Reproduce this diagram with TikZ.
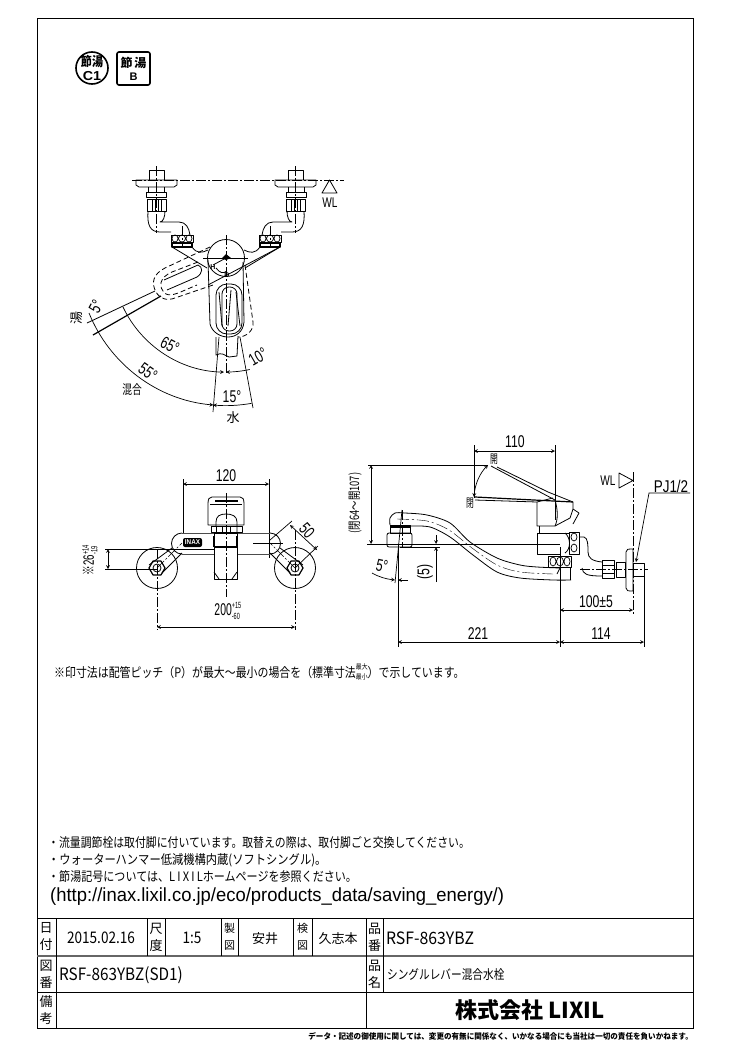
\documentclass[tikz,border=0pt]{standalone}
\usepackage{fontspec}
\setmainfont{Liberation Sans}
\newfontfamily\jpfont{Noto Sans CJK JP}
\usetikzlibrary{calc}
\newcommand{\jp}[1]{{\jpfont #1}}
\newcommand{\tolstack}[2]{$^{\mbox{\fontsize{9}{9}\selectfont #1}}_{\mbox{\fontsize{9}{9}\selectfont #2}}$}
\tikzset{
    >=stealth,
    part/.style={line width=0.8pt, line join=round},
    heavy/.style={part, line width=1.2pt},
    hidden/.style={part, dashed, dash pattern=on 5pt off 3pt},
    centre/.style={line width=0.6pt, dash pattern=on 10pt off 2pt on 2pt off 2pt},
    thin-line/.style={line width=0.7pt},
    dim/.style={thin-line, <->},
    rule/.style={line width=0.9pt},
    dim-label/.style={font=\fontsize{17}{17}\selectfont, xscale=0.72, inner sep=0pt},
    jp-label/.style={font=\fontsize{13}{13}\selectfont\jpfont, inner sep=0pt},
    note/.style={font=\fontsize{13}{13}\selectfont\jpfont, inner sep=0pt, anchor=west},
    cell/.style={font=\fontsize{13}{17}\selectfont\jpfont, inner sep=0pt, align=center},
    value/.style={font=\fontsize{17}{17}\selectfont\jpfont, inner sep=0pt}
}
% one supply leg of the top view, drawn on the left of x=226
\newcommand{\supplyleg}{
    \draw[part] (136,180) -- (177,180) -- (177,185) -- (174,187) -- (139,187) -- (136,185) -- cycle;
    \draw[part] (149,180) -- (149,170) -- (164,170) -- (164,180);
    \draw[part] (146,192) rectangle (166,197);
    \draw[part] (148,187) -- (148,192) (164,187) -- (164,192);
    \draw[part] (147,199) rectangle (166,211);
    \draw[part] (152,199) -- (152,211) (155,199) -- (155,211) (158,199) -- (158,211) (161,199) -- (161,211);
    \draw[part] (148,211) .. controls (147,225) and (150,232) .. (160,232) -- (171,232);
    \draw[part] (165,211) .. controls (165,217) and (163,222) .. (160,222) -- (179,222) .. controls (186,222) and (189,228) .. (190,235);
    \draw[part] (171,235) rectangle (193,242);
    \draw[thin-line] (175,238.5) ellipse (3 and 3.5) (182,238.5) ellipse (3.5 and 3.5) (189,238.5) ellipse (3 and 3.5);
    \draw[heavy] (172,243) rectangle (192,247);
    \draw[part] (172,247) -- (207,268);
    \draw[part] (192,247) .. controls (197,254) and (202,253) .. (208,250);
    \draw[centre] (156.5,166) -- (156.5,233);
    \draw[centre] (182,226) -- (182,246);
}
% one foot of the front view
\newcommand{\footplate}[1]{
    \draw[part] #1 circle (20.5);
    \draw[heavy, shift={#1}] (0:8) -- (60:8) -- (120:8) -- (180:8) -- (240:8) -- (300:8) -- cycle;
    \draw[part] #1 circle (4);
}
\begin{document}
\begin{tikzpicture}[x=1pt,y=-1pt]
    \useasboundingbox (0,0) rectangle (750,1060);
    \fill[white] (0,0) rectangle (750,1060);

    % frame and title block
    \draw[rule] (37,18) rectangle (693,1028);
    \draw[rule] (37,918) -- (693,918) (37,992) -- (693,992);
    \draw[line width=1.2pt, black!60] (37,956) -- (693,956);
    \draw[rule] (56,918) -- (56,1028) (366,918) -- (366,1028) (383,918) -- (383,992);
    \draw[rule] (147,918) -- (147,956) (165,918) -- (165,956) (221,918) -- (221,956);
    \draw[rule] (238,918) -- (238,956) (293,918) -- (293,956) (312,918) -- (312,956);

    \node[cell] (date-head) at (46,937) {日\\付};
    \node[value, font=\fontsize{16}{16}\selectfont\jpfont, xscale=0.85] (date-value) at (101,938) {2015.02.16};
    \node[cell] (scale-head) at (156,937) {尺\\度};
    \node[value, font=\fontsize{16}{16}\selectfont\jpfont, xscale=0.85] (scale-value) at (192,938) {1:5};
    \node[cell, font=\fontsize{11}{17}\selectfont\jpfont] (drawn-head) at (229.5,937) {製\\図};
    \node[jp-label] (drawn-value) at (265,939) {安井};
    \node[cell, font=\fontsize{11}{17}\selectfont\jpfont] (check-head) at (302.5,937) {検\\図};
    \node[jp-label] (check-value) at (338,939) {久志本};
    \node[cell] (item-head) at (374.5,937) {品\\番};
    \node[value, anchor=west, xscale=0.93] (item-value) at (386,938) {RSF-863YBZ};
    \node[cell] (sheet-head) at (46,974) {図\\番};
    \node[value, anchor=west, xscale=0.9] (sheet-value) at (59,975) {RSF-863YBZ(SD1)};
    \node[cell] (name-head) at (374.5,974) {品\\名};
    \node[note, xscale=0.82] (name-value) at (387,975) {シングルレバー混合水栓};
    \node[cell] (memo-head) at (46,1010) {備\\考};
    \node[font=\fontsize{22}{22}\selectfont\jpfont\bfseries, inner sep=0pt] (maker) at (530,1010) {株式会社 LIXIL};
    \node[font=\fontsize{8}{8}\selectfont\jpfont\bfseries, inner sep=0pt, anchor=east, xscale=0.945] (disclaimer) at (693,1036) {データ・記述の御使用に関しては、変更の有無に関係なく、いかなる場合にも当社は一切の責任を負いかねます。};

    % saving marks
    \draw[line width=1.6pt] (92,68) circle (16);
    \node[font=\fontsize{13}{13}\selectfont\jpfont\bfseries, inner sep=0pt, xscale=0.85] (mark-a) at (92,62) {節湯};
    \node[font=\fontsize{13}{13}\selectfont\bfseries, inner sep=0pt, xscale=1.1] (mark-a-grade) at (92,76) {C1};
    \draw[line width=1.6pt, rounded corners=2pt] (117,52) rectangle (150,85);
    \node[font=\fontsize{12}{12}\selectfont\jpfont\bfseries, inner sep=0pt] (mark-b) at (133.5,63) {節\,湯};
    \node[font=\fontsize{11}{11}\selectfont\bfseries, inner sep=0pt] (mark-b-grade) at (133.5,77) {B};

    % top view
    \draw[centre] (132,180) -- (344,180);
    \supplyleg
    \begin{scope}[xshift=452pt,xscale=-1]
        \supplyleg
    \end{scope}
    \draw[part] (322,193) -- (329.5,180) -- (337,193) -- cycle;
    \node[dim-label, font=\fontsize{14}{14}\selectfont] (wl-top) at (330,203) {WL};

    \draw[part] (226,258) circle (18.5);
    \draw[part] (203,258) -- (248,258);
    \fill (222,258) -- (226,254) -- (231,258) -- (226,260) -- cycle;
    \draw[centre] (226,235) -- (226,373);
    \draw[part] (226,258) -- (213,265);
    \draw[part] (216,268) .. controls (220,273) and (223,274) .. (227,271);
    \node[font=\fontsize{7}{7}\selectfont\bfseries, inner sep=0pt] (mark-h) at (213,267) {H};
    \node[font=\fontsize{7}{7}\selectfont\bfseries, inner sep=0pt] (mark-d) at (227,275) {D};

    % lever, swung to the side
    \draw[hidden] (210,247) -- (165,268) .. controls (153,274) and (151,283) .. (156,292) .. controls (160,299) and (167,301) .. (175,298) -- (213,285);
    \draw[hidden] (198,262) -- (172,272) .. controls (160,277) and (157,287) .. (166,294) .. controls (172,297) and (180,292) .. (197,285);
    \draw[part] (164,280) -- (198,265) .. controls (203,267) and (203,273) .. (197,277) -- (167,290);
    \draw[part] (280,247) -- (208,285);
    \draw[part] (155,291) -- (87,323);
    \draw[heavy] (161,296) -- (93,335);

    % lever, to the front
    \draw[part] (208,260) -- (210,324) .. controls (212,332) and (220,337) .. (228,337) .. controls (236,337) and (243,332) .. (244,322) -- (243,262);
    \draw[hidden] (245,265) -- (253,322) .. controls (254,330) and (247,337) .. (238,337);
    \draw[part, rounded corners=11pt] (216,284) rectangle (242,334);
    \draw[part, rounded corners=7pt] (222,287) rectangle (237,331);
    \draw[part] (219,292) -- (222,326) (231,290) -- (228,326) (236,292) -- (240,326);
    \draw[part] (216,337) -- (216,355) .. controls (222,352) and (224,355) .. (229,357) -- (237,356) -- (238,336);

    \draw[thin-line] (219,337) -- (213,412);
    \draw[thin-line] (240,337) -- (253,408);
    \draw[thin-line, ->] (123,307) arc[start angle=154.6, end angle=91, radius=114];
    \draw[thin-line, <-] (226,372) arc[start angle=90, end angle=78, radius=114];
    \draw[thin-line, ->] (89,313) arc[start angle=158, end angle=95, radius=148];
    \draw[thin-line, <-] (213,405) arc[start angle=95, end angle=80, radius=148];

    \node[rotate=-27, dim-label] (angle-lever) at (170,345) {65°};
    \node[rotate=-35, dim-label] (angle-mixed) at (148,372) {55°};
    \node[rotate=62, dim-label] (angle-hot) at (96,307) {5°};
    \node[rotate=30, dim-label] (angle-right) at (258,357) {10°};
    \node[dim-label] (angle-cold) at (232,397) {15°};
    \node[jp-label] (label-cold) at (233,418) {水};
    \node[jp-label, rotate=90] (label-hot) at (77,318) {湯};
    \node[jp-label, xscale=0.75] (label-mixed) at (132,390) {混合};

    % front view
    \draw[thin-line] (183,479) -- (183,533) (269,479) -- (269,558);
    \draw[dim] (183,484) -- (269,484);
    \node[dim-label] (width-lever) at (226,476) {120};

    \draw[part] (208,525) -- (208,504) .. controls (208,499) and (209,497) .. (212,497) -- (240,497) .. controls (243,497) and (244,499) .. (244,504) -- (244,525) -- cycle;
    \draw[heavy] (215,501) -- (238,501);
    \draw[part] (210,504) -- (242,504);
    \draw[part] (216,526) -- (216,522) .. controls (216,516) and (220,514) .. (226,514) .. controls (232,514) and (237,516) .. (237,522) -- (237,533);
    \draw[part] (211,526) rectangle (242,532);
    \draw[part] (216,526) -- (216,533) (222,526) -- (222,533) (230,526) -- (230,533);

    \draw[line width=1pt, black!70] (182,533) -- (270,533) (182,554) -- (214,554) (237,554) -- (270,554);
    \draw[part] (182,533) arc[start angle=-90, end angle=-270, radius=10.5];
    \draw[part] (270,533) arc[start angle=-90, end angle=90, radius=10.5];
    \fill[black, rounded corners=2pt] (183,538) rectangle (202,547);
    \node[font=\fontsize{7}{7}\selectfont\bfseries, text=white, inner sep=0pt, xscale=0.9] (logo) at (192.5,542.5) {INAX};

    \draw[part] (172,548) -- (149,565) (182,553) -- (162,573);
    \draw[part] (280,548) -- (303,565) (270,553) -- (290,573);
    \draw[centre] (157,568) -- (182,543);
    \draw[centre] (295,568) -- (270,543);
    \draw[thin-line] (253,543) -- (283,543);

    \draw[part, fill=white] (214,533) rectangle (237,579);
    \draw[heavy] (214,536) -- (214,547) (237,536) -- (237,547) (214,547) -- (237,547);
    \draw[part] (214,572) -- (219,579) (237,572) -- (232,579);
    \draw[centre] (226,493) -- (226,597);

    \footplate{(157,568)}
    \footplate{(295,568)}
    \draw[part] (105,549) -- (215,549);
    \draw[thin-line] (105,569) -- (157,569);
    \draw[centre] (157,549) -- (157,630) (295,530) -- (295,630);
    \draw[dim] (108,549) -- (108,569);
    \node[rotate=90, dim-label, font=\fontsize{15}{15}\selectfont, xscale=0.9] (pitch-height) at (90,560) {\jp{※}26\tolstack{+14}{-19}};

    \draw[thin-line] (270,540) -- (292,521) (295,568) -- (318,546);
    \draw[dim] (290,525) -- (317,550);
    \node[rotate=-48, dim-label] (width-arm) at (307,531) {50};

    \draw[dim] (157,627) -- (295,627);
    \node[dim-label, xscale=0.85] (pitch) at (228,611) {200\tolstack{+15}{-60}};

    % side view, dimensions
    \draw[thin-line] (474,445) -- (474,498) (555,445) -- (555,520);
    \draw[dim] (474,451) -- (555,451);
    \node[dim-label] (reach-lever) at (515,442) {110};
    \draw[thin-line] (368,465) -- (488,465);
    \draw[part] (367,544) -- (560,544);
    \draw[dim] (371,465) -- (371,544);
    \node[jp-label, rotate=90, xscale=0.72] (height-lever) at (355,503) {(閉64～開107)};
    \node[jp-label, font=\fontsize{12}{12}\selectfont\jpfont, xscale=0.65] (lever-open) at (494,459) {開};
    \node[jp-label, font=\fontsize{12}{12}\selectfont\jpfont, xscale=0.65] (lever-closed) at (470,503) {閉};
    \draw[thin-line, <->] (474,497) .. controls (475,484) and (480,473) .. (488,465);

    \draw[thin-line] (398,545) -- (398,647) (560,547) -- (560,647) (644,575) -- (644,647);
    \draw[thin-line] (402,510) -- (395,583);
    \draw[dim] (560,610) -- (633,610);
    \node[dim-label] (wall-gap) at (596,602) {100±5};
    \draw[dim] (398,642) -- (560,642);
    \node[dim-label] (spout-reach) at (478,634) {221};
    \draw[dim] (560,642) -- (644,642);
    \node[dim-label] (body-depth) at (601,634) {114};

    \draw[thin-line] (400,547) -- (440,547);
    \draw[thin-line, ->] (436,535) -- (436,544);
    \draw[thin-line, ->] (436,582) -- (436,547);
    \node[rotate=90, dim-label] (aerator-gap) at (425,572) {(5)};
    \draw[thin-line, ->] (372,573) .. controls (379,577) and (386,579) .. (395,580);
    \draw[thin-line, ->] (408,580) -- (398,580);
    \node[rotate=-12, dim-label] (angle-aerator) at (382,566) {5°};

    \draw[part] (619,473) -- (619,488) -- (633,480.5) -- cycle;
    \node[dim-label, font=\fontsize{14}{14}\selectfont] (wl-side) at (608,481) {WL};
    \draw[centre] (633,472) -- (633,615);
    \draw[thin-line, ->] (690,493) -- (649,493) -- (636,562);
    \node[dim-label, xscale=1.1] (thread) at (671,486) {PJ1/2};

    % side view, spout
    \draw[part] plot[smooth] coordinates {(390,525) (390,518) (395,513) (405,513) (427,515) (450,523) (470,542) (497,558) (520,565) (537,567) (560,568)};
    \draw[part] plot[smooth] coordinates {(410,526) (430,527) (450,537) (473,555) (497,572) (520,578) (553,580) (571,580)};
    \draw[line width=0.4pt, dash pattern=on 12pt off 3pt on 2pt off 3pt] plot[smooth] coordinates {(397,519) (427,521) (449,530) (472,548) (497,565) (520,572) (553,574)};
    \draw[centre] (402,510) -- (402,548);
    \draw[part] (390,525) rectangle (410,533);
    \draw[part, rounded corners=2pt] (387,533) rectangle (412,547);
    \draw[heavy] (390,527) -- (410,527);

    % side view, lever and body
    \draw[part] (491,466) -- (555,500);
    \draw[part] (497,467) -- (548,492) -- (573,502);
    \draw[heavy] (475,497) -- (573,502);
    \draw[part] (475,500) -- (537,502) -- (553,498);
    \draw[part] (573,502) -- (573,509) -- (579,513) -- (573,524);
    \draw[part] (537,502) -- (537,526) -- (555,526) -- (570,518) -- (573,509);
    \draw[part] (539,526) -- (539,533);
    \draw[part] (555,500) .. controls (558,510) and (558,520) .. (555,526);
    \draw[part] (560,554) -- (537,554) -- (537,533) -- (570,533);
    \draw[part] (565,533) .. controls (571,538) and (571,549) .. (565,553);
    \draw[part] (569,532) rectangle (579,554);
    \draw[thin-line] (574,537) ellipse (3 and 4) (574,548) ellipse (3 and 4);
    \draw[part] (548,556) rectangle (571,567);
    \draw[thin-line] (553,561.5) ellipse (3 and 4.5) (560,561.5) ellipse (3.5 and 4.5) (567,561.5) ellipse (3 and 4.5);
    \draw[part] (555,567) -- (555,568) (570,567) -- (570,580);
    \draw[part] (557,574) .. controls (558,572) and (559,570) .. (560,568);

    % side view, supply and wall plate
    \draw[part] (579,537) -- (584,537) .. controls (588,538) and (588,545) .. (588,552) .. controls (588,558) and (592,561) .. (602,562);
    \draw[part] (582,568) .. controls (583,574) and (586,576) .. (602,576);
    \draw[part] (602,560) rectangle (614,578);
    \draw[part] (602,565) -- (614,565) (602,573) -- (614,573);
    \draw[part] (616,562) rectangle (625,577);
    \draw[part] (626,552) .. controls (626,549) and (628,549) .. (633,549) -- (633,591) .. controls (628,591) and (626,591) .. (626,588) -- cycle;
    \draw[part] (633,563) rectangle (644,576);
    \draw[centre] (580,569) -- (648,569);

    % notes
    \node[note, xscale=0.84] (pitch-note) at (54,672) {※印寸法は配管ピッチ（P）が最大～最小の場合を（標準寸法\raisebox{-2pt}{\fontsize{7}{7}\selectfont\shortstack{最大\\最小}}）で示しています。};
    \node[note, xscale=0.836] (note-flow) at (48,843) {・流量調節栓は取付脚に付いています。取替えの際は、取付脚ごと交換してください。};
    \node[note, xscale=0.868] (note-hammer) at (48,860) {・ウォーターハンマー低減機構内蔵(ソフトシングル)。};
    \node[note, xscale=0.85] (note-mark) at (48,877) {・節湯記号については、{\addfontfeatures{LetterSpace=20}LIXIL}ホームページを参照ください。};
    \node[font=\fontsize{19}{19}\selectfont, inner sep=0pt, anchor=west, xscale=0.97] (note-url) at (50,897) {(http://inax.lixil.co.jp/eco/products\_data/saving\_energy/)};
\end{tikzpicture}
\end{document}
